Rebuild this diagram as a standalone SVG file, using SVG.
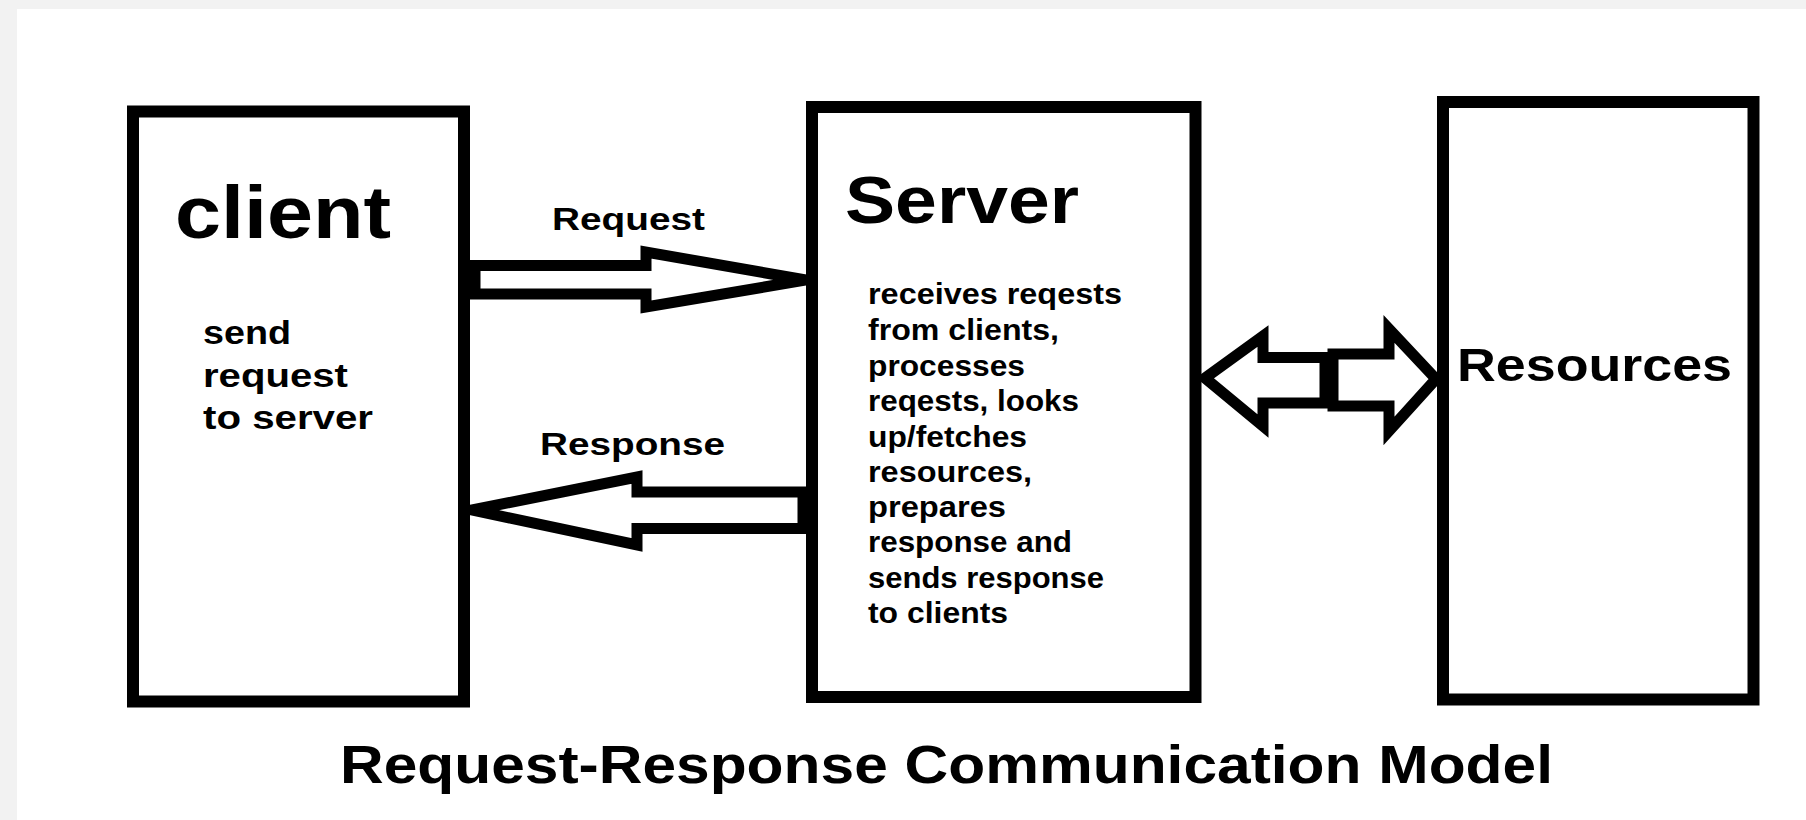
<svg xmlns="http://www.w3.org/2000/svg" width="1806" height="820" viewBox="0 0 1806 820">
  <style>
    .box { fill: #ffffff; stroke: #000000; stroke-width: 12; }
    .arrow { fill: #ffffff; stroke: #000000; stroke-width: 11; stroke-linejoin: miter; stroke-miterlimit: 10; }
    text { font-family: "Liberation Sans", Arial, sans-serif; font-weight: bold; fill: #000000; }
  </style>
  <rect x="0" y="0" width="1806" height="820" fill="#f2f2f2"/>
  <rect x="17" y="9" width="1789" height="811" fill="#ffffff"/>

  <g id="connectors">
    <g id="request-arrow">
      <polygon class="arrow" points="475,265.5 646,265.5 646,252 806,280 646,307 646,294 475,294"/>
      <text x="552" y="230" font-size="32" textLength="153" lengthAdjust="spacingAndGlyphs">Request</text>
    </g>
    <g id="response-arrow">
      <polygon class="arrow" points="803,492 637,492 637,477 472,510 637,545 637,528.5 803,528.5"/>
      <text x="540" y="455" font-size="32" textLength="185" lengthAdjust="spacingAndGlyphs">Response</text>
    </g>
    <g id="resource-arrows">
      <polygon class="arrow" points="1325,357.5 1263,357.5 1263,336 1205,378 1263,426 1263,403 1325,403"/>
      <polygon class="arrow" points="1333,354 1389,354 1389,329 1436,379 1389,431 1389,406 1333,406"/>
    </g>
  </g>

  <g id="client">
    <rect class="box" x="133" y="111.5" width="331" height="590"/>
    <text x="175" y="238" font-size="75" textLength="216" lengthAdjust="spacingAndGlyphs">client</text>
    <text x="203" y="344" font-size="33" textLength="88" lengthAdjust="spacingAndGlyphs">send</text>
    <text x="203" y="387" font-size="33" textLength="145" lengthAdjust="spacingAndGlyphs">request</text>
    <text x="203" y="429" font-size="33" textLength="170" lengthAdjust="spacingAndGlyphs">to server</text>
  </g>

  <g id="server">
    <rect class="box" x="812" y="107" width="383.5" height="590"/>
    <text x="845" y="223" font-size="66" textLength="234" lengthAdjust="spacingAndGlyphs">Server</text>
    <text x="868" y="303.5" font-size="29" textLength="254" lengthAdjust="spacingAndGlyphs">receives reqests</text>
    <text x="868" y="339.5" font-size="29" textLength="191" lengthAdjust="spacingAndGlyphs">from clients,</text>
    <text x="868" y="375.5" font-size="29" textLength="157" lengthAdjust="spacingAndGlyphs">processes</text>
    <text x="868" y="411" font-size="29" textLength="211" lengthAdjust="spacingAndGlyphs">reqests, looks</text>
    <text x="868" y="446.5" font-size="29" textLength="159" lengthAdjust="spacingAndGlyphs">up/fetches</text>
    <text x="868" y="481.5" font-size="29" textLength="164" lengthAdjust="spacingAndGlyphs">resources,</text>
    <text x="868" y="517" font-size="29" textLength="138" lengthAdjust="spacingAndGlyphs">prepares</text>
    <text x="868" y="552" font-size="29" textLength="204" lengthAdjust="spacingAndGlyphs">response and</text>
    <text x="868" y="587.5" font-size="29" textLength="236" lengthAdjust="spacingAndGlyphs">sends response</text>
    <text x="868" y="622.5" font-size="29" textLength="140" lengthAdjust="spacingAndGlyphs">to clients</text>
  </g>

  <g id="resources">
    <rect class="box" x="1443" y="102" width="310.5" height="597.5"/>
    <text x="1457" y="381" font-size="47" textLength="275" lengthAdjust="spacingAndGlyphs">Resources</text>
  </g>

  <g id="title">
    <text x="340" y="783" font-size="54" textLength="1213" lengthAdjust="spacingAndGlyphs">Request-Response Communication Model</text>
  </g>
</svg>
